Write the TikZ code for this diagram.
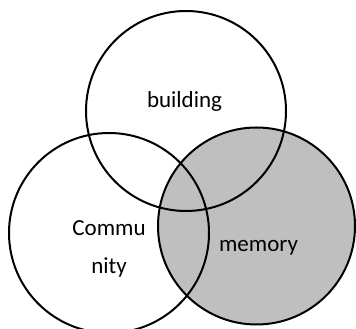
\documentclass[tikz,border=0pt]{standalone}
\usepackage{fontspec}
\setmainfont{Carlito}
\usetikzlibrary{positioning}

\begin{document}
\begin{tikzpicture}[x=1pt, y=1pt,
    set/.style={draw, circle, line width=2pt, inner sep=0pt, minimum size=200pt},
    lbl/.style={font=\fontsize{23}{38}\selectfont, align=center}]
  \useasboundingbox (0,0) rectangle (356,329);
  \node [set, fill=black!25, minimum size=197pt] (memset) at (256.5,103) {};
  \node [set] (buildset) at (186,218) {};
  \node [set] (commset) at (109,96) {};
  \node [lbl, anchor=base] (building) at (184.5,221) {building};
  \node [lbl] (community) at (109,80) {Commu\\nity};
  \node [lbl, anchor=base] (memory) at (258.5,77) {memory};
\end{tikzpicture}
\end{document}
